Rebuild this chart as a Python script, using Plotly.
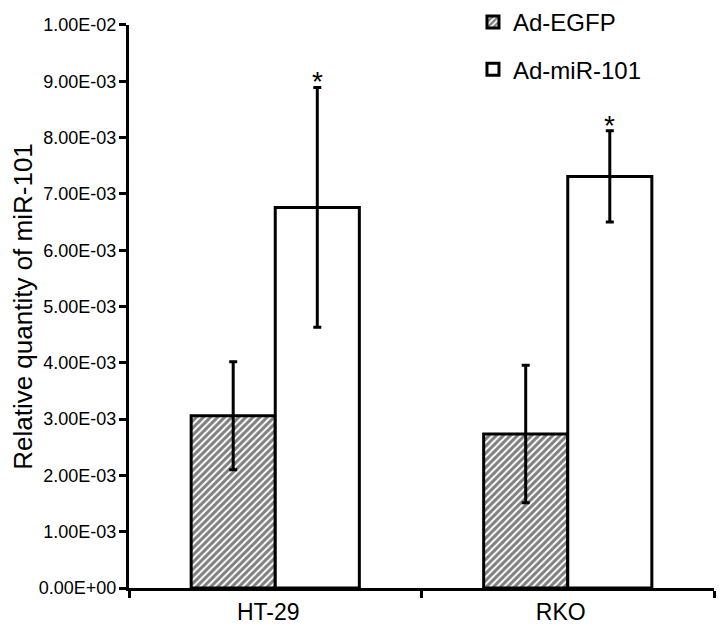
import plotly.graph_objects as go

categories = ["HT-29", "RKO"]
egfp_vals = [3.06e-3, 2.735e-3]
egfp_err = [0.96e-3, 1.22e-3]
mir_vals = [6.76e-3, 7.31e-3]
mir_err = [2.13e-3, 0.81e-3]
star_labels = ["*", "*"]
y_tickvals = [0, 1e-3, 2e-3, 3e-3, 4e-3, 5e-3, 6e-3, 7e-3, 8e-3, 9e-3, 1e-2]
y_ticktext = ["0.00E+00", "1.00E-03", "2.00E-03", "3.00E-03", "4.00E-03", "5.00E-03",
              "6.00E-03", "7.00E-03", "8.00E-03", "9.00E-03", "1.00E-02"]

FONT = "Liberation Sans, Arial, sans-serif"

fig = go.Figure()
fig.add_trace(go.Bar(
    name="Ad-EGFP", x=categories, y=egfp_vals,
    error_y=dict(type="data", array=egfp_err, color="black", thickness=3, width=4),
    marker=dict(color="white", line=dict(color="black", width=3),
                pattern=dict(shape="/", fgcolor="black", bgcolor="white", size=5, solidity=0.6)),
    legendgroup="a",
))
fig.add_trace(go.Bar(
    name="Ad-miR-101", x=categories, y=mir_vals,
    error_y=dict(type="data", array=mir_err, color="black", thickness=3, width=4),
    marker=dict(color="white", line=dict(color="black", width=3)),
    legendgroup="b",
))

for i, c in enumerate(categories):
    fig.add_annotation(x=c, y=mir_vals[i] + mir_err[i], text=star_labels[i], showarrow=False,
                       xshift=42, yanchor="bottom", yshift=-12,
                       font=dict(size=28, color="black", family=FONT))

fig.update_layout(
    width=716, height=623,
    margin=dict(l=121, r=10, t=0, b=43, autoexpand=False),
    paper_bgcolor="white", plot_bgcolor="white",
    barmode="group", bargap=0.425, bargroupgap=0,
    font=dict(family=FONT, color="black"),
    showlegend=True,
    legend=dict(x=0.588, y=1.014, xanchor="left", yanchor="top", bgcolor="rgba(0,0,0,0)",
                font=dict(size=24, family=FONT), tracegroupgap=13, itemwidth=30),
    xaxis=dict(range=[-0.5, 1.5], showline=True, linecolor="black", linewidth=3,
               ticks="outside", tickson="boundaries", ticklen=7, tickwidth=3, tickcolor="black",
               tickfont=dict(size=23, family=FONT), showgrid=False, zeroline=False,
               ticklabelshift=-7, ticklabelstandoff=1,
               automargin=False),
    yaxis=dict(range=[0, 0.01], domain=[0, 0.9707], showline=True, linecolor="black", linewidth=3,
               tickvals=y_tickvals, ticktext=y_ticktext,
               ticks="outside", ticklen=7, tickwidth=3, tickcolor="black",
               tickfont=dict(size=18, family=FONT), showgrid=False, zeroline=False,
               ticklabelstandoff=-1,
               title=dict(text="Relative quantity of miR-101", font=dict(size=26, family=FONT), standoff=6),
               automargin=False),
)

fig.write_html("out.html")
